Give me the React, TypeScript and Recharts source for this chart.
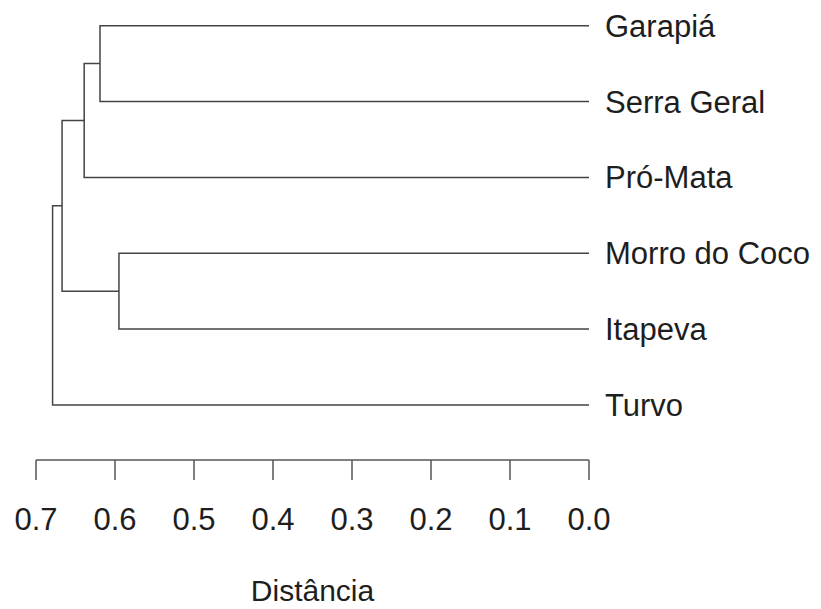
import React from "react";
import { ComposedChart, Line, XAxis, YAxis } from "recharts";

// leaves, top to bottom (plot order)
const leaves = ["Garapiá", "Serra Geral", "Pró-Mata", "Morro do Coco", "Itapeva", "Turvo"];

// hclust-style merge steps: negative = leaf number (1-based), positive = earlier step
const mergeLeft = [-1, 1, -4, 2, 4];
const mergeRight = [-2, -3, -5, 3, -6];
const mergeHeight = [0.619, 0.639, 0.595, 0.667, 0.679];

const distTicks = [0, 0.1, 0.2, 0.3, 0.4, 0.5, 0.6, 0.7];
const leafTicks = [1, 2, 3, 4, 5, 6];

const FONT = "'Liberation Sans', Arial, sans-serif";
const TEXT = "#1e1e1e";
const LINE = "#444";

type Pt = { x: number; y: number };

// position (height, y) of a node, looked up from the merge table
const nodePos = (id: number, pos: Pt[]): Pt =>
  id < 0 ? { x: 0, y: -id } : pos[id - 1];

const buildSegments = () => {
  const pos: Pt[] = [];
  const segs: Pt[][] = [];
  mergeHeight.forEach((h, i) => {
    const a = nodePos(mergeLeft[i], pos);
    const b = nodePos(mergeRight[i], pos);
    segs.push([
      { x: a.x, y: a.y },
      { x: h, y: a.y },
      { x: h, y: b.y },
      { x: b.x, y: b.y },
    ]);
    pos.push({ x: h, y: (a.y + b.y) / 2 });
  });
  return segs;
};

const LeafTick = (props: any) => {
  const { x, y, payload } = props;
  return (
    <text x={x} y={y} dy={11} textAnchor="start" fill={TEXT} fontSize={31} fontFamily={FONT}>
      {leaves[payload.value - 1]}
    </text>
  );
};

const DistTick = (props: any) => {
  const { x, y, payload } = props;
  return (
    <text x={x} y={y} dy={50} textAnchor="middle" fill={TEXT} fontSize={31} fontFamily={FONT}>
      {Number(payload.value).toFixed(1)}
    </text>
  );
};

const AxisTitle = (props: any) => {
  const vb = props.viewBox || {};
  return (
    <text
      x={vb.x + vb.width / 2}
      y={vb.y + 141}
      textAnchor="middle"
      fill={TEXT}
      fontSize={30}
      fontFamily={FONT}
    >
      Distância
    </text>
  );
};

export default function App() {
  const segments = buildSegments();

  return (
    <div style={{ position: "absolute", left: 0, top: 0, background: "#fff" }}>
      <ComposedChart width={821} height={609} margin={{ top: 10, right: 0, bottom: 0, left: 36 }}>
        <XAxis
          type="number"
          dataKey="x"
          domain={[0, 0.7]}
          reversed
          ticks={distTicks}
          interval={0}
          height={149}
          tickSize={20}
          tickMargin={0}
          stroke="#555"
          strokeWidth={1.5}
          tick={<DistTick />}
          label={<AxisTitle />}
          allowDataOverflow
        />
        <YAxis
          type="number"
          dataKey="y"
          orientation="right"
          domain={[0.793, 6.726]}
          reversed
          ticks={leafTicks}
          interval={0}
          width={232}
          axisLine={false}
          tickLine={false}
          tickSize={0}
          tickMargin={16}
          tick={<LeafTick />}
          allowDataOverflow
        />
        {segments.map((pts, i) => (
          <Line
            key={i}
            data={pts}
            dataKey="y"
            type="linear"
            stroke={LINE}
            strokeWidth={1.5}
            dot={false}
            activeDot={false}
            isAnimationActive={false}
          />
        ))}
      </ComposedChart>
    </div>
  );
}
